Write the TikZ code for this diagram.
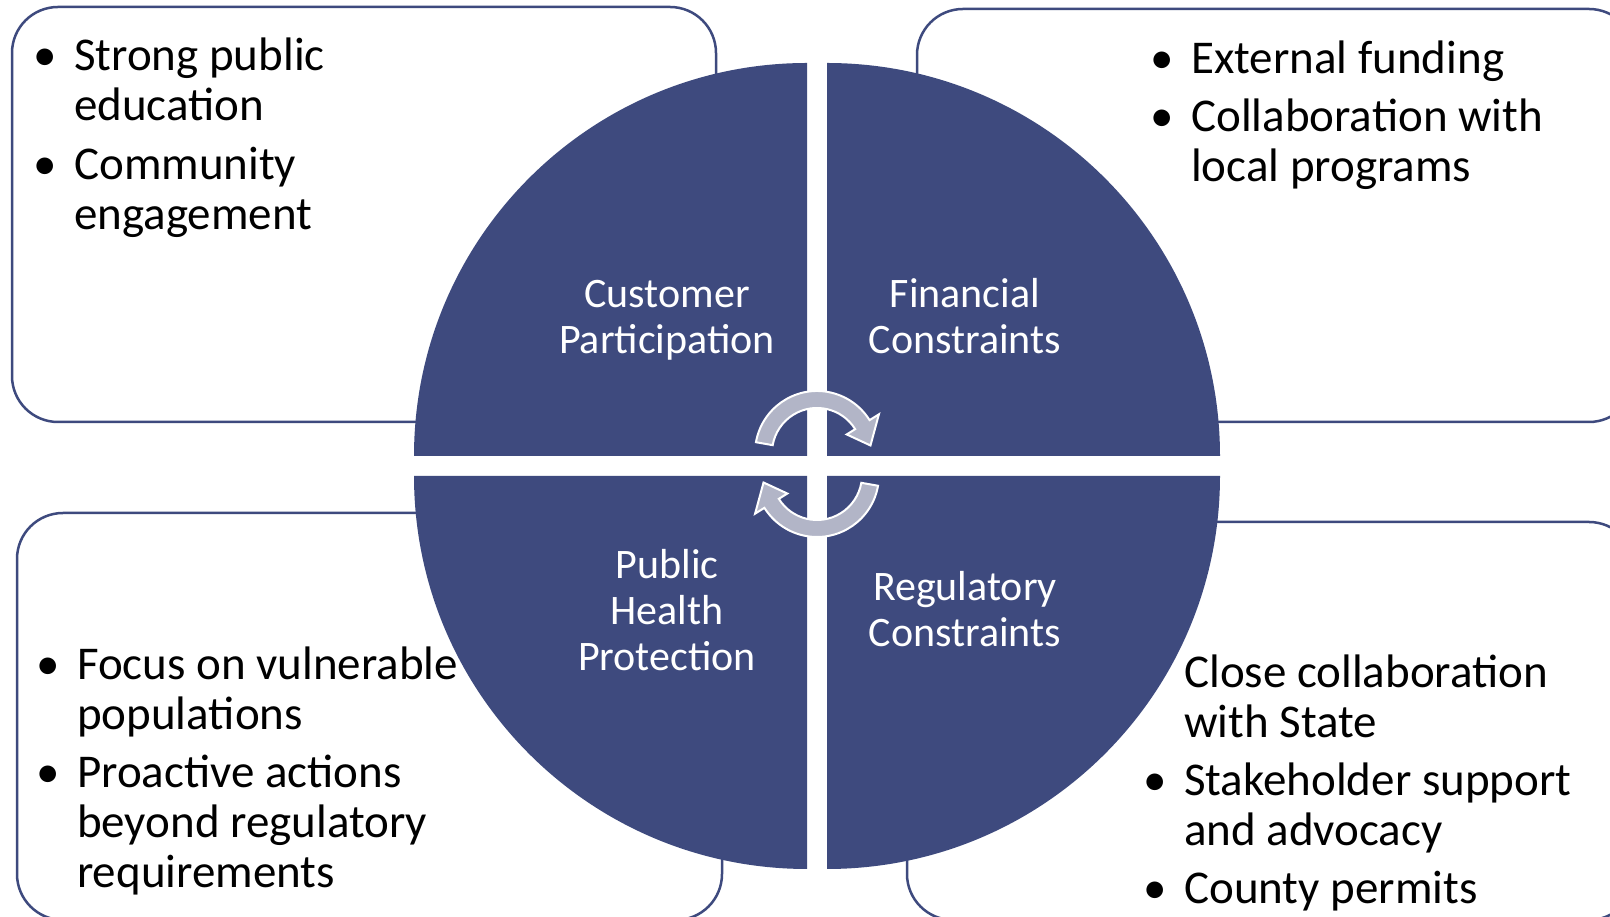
\documentclass[tikz,border=0pt]{standalone}
\usepackage{fontspec}
\setmainfont{Carlito}
\usetikzlibrary{calc}
\definecolor{qblue}{RGB}{62,74,126}
\definecolor{arrowgray}{RGB}{178,181,199}
\newcommand{\bitem}{\makebox[28pt][c]{\textbullet}}
\begin{document}
\begin{tikzpicture}[x=1pt,y=1pt,
  box/.style={draw=qblue, line width=2.5pt, fill=white, rounded corners=46pt, rectangle, inner sep=0pt},
  quad/.style={fill=qblue},
  cyc/.style={fill=arrowgray, draw=white, line width=2pt, line join=miter},
  btext/.style={inner sep=0pt, anchor=base west, text=black, font={\fontsize{47}{50}\selectfont}},
  qlabel/.style={inner sep=0pt, anchor=base, text=white, font={\fontsize{42}{46}\selectfont}}]
\useasboundingbox (0,0) rectangle (1610,917);
\fill[white] (0,0) rectangle (1610,917);

% corner boxes
\node[box, minimum width=704pt, minimum height=415pt] (tlbox) at (364,702.5) {};
\node[box, minimum width=718pt, minimum height=413pt] (trbox) at (1276,701.5) {};
\node[box, minimum width=705pt, minimum height=407pt] (blbox) at (369.5,200.5) {};
\node[box, minimum width=728pt, minimum height=398pt] (brbox) at (1271,196) {};

% quadrants
\fill[quad] (807,461) -- ++(-393,0) arc[start angle=180, end angle=90, radius=393] -- cycle;
\fill[quad] (827,461) -- ++(0,393) arc[start angle=90, end angle=0, radius=393] -- cycle;
\fill[quad] (807,441) -- ++(-393,0) arc[start angle=180, end angle=270, radius=393] -- cycle;
\fill[quad] (827,441) -- ++(393,0) arc[start angle=0, end angle=-90, radius=393] -- cycle;

% circular arrows
\begin{scope}[shift={(817,464)}]
\draw[cyc] (170:62) arc[start angle=170, end angle=32, radius=62] -- (32:73) -- (8:54) -- (32:35) -- (32:45) arc[start angle=32, end angle=170, radius=45] -- cycle;
\end{scope}
\begin{scope}[shift={(817,442)}]
\draw[cyc] (350:62) arc[start angle=350, end angle=212, radius=62] -- (212:73) -- (188:54) -- (212:35) -- (212:45) arc[start angle=212, end angle=350, radius=45] -- cycle;
\end{scope}

% quadrant labels
\node[qlabel] (lcust) at (667,609) {\begin{tabular}[t]{@{}c@{}}Customer\\Participation\end{tabular}};
\node[qlabel] (lfin) at (965,609) {\begin{tabular}[t]{@{}c@{}}Financial\\Constraints\end{tabular}};
\node[qlabel] (lpub) at (667,338) {\begin{tabular}[t]{@{}c@{}}Public\\Health\\Protection\end{tabular}};
\node[qlabel] (lreg) at (965,316) {\begin{tabular}[t]{@{}c@{}}Regulatory\\Constraints\end{tabular}};

% box texts
\node[btext] (ttl) at (31,846) {\begin{tabular}[t]{@{}l@{\hspace{15pt}}l@{}}
\bitem & Strong public\\
 & education\\[9pt]
\bitem & Community\\
 & engagement
\end{tabular}};
\node[btext] (ttr) at (1148,843) {\begin{tabular}[t]{@{}l@{\hspace{15pt}}l@{}}
\bitem & External funding\\[8pt]
\bitem & Collaboration with\\
 & local programs
\end{tabular}};
\node[btext] (tbl) at (34,237) {\begin{tabular}[t]{@{}l@{\hspace{15pt}}l@{}}
\bitem & Focus on vulnerable\\
 & populations\\[8pt]
\bitem & Proactive actions\\
 & beyond regulatory\\
 & requirements
\end{tabular}};
\node[btext] (tbr) at (1141,229) {\begin{tabular}[t]{@{}l@{\hspace{15pt}}l@{}}
 & Close collaboration\\
 & with State\\[8pt]
\bitem & Stakeholder support\\
 & and advocacy\\[8pt]
\bitem & County permits
\end{tabular}};
\end{tikzpicture}
\end{document}
